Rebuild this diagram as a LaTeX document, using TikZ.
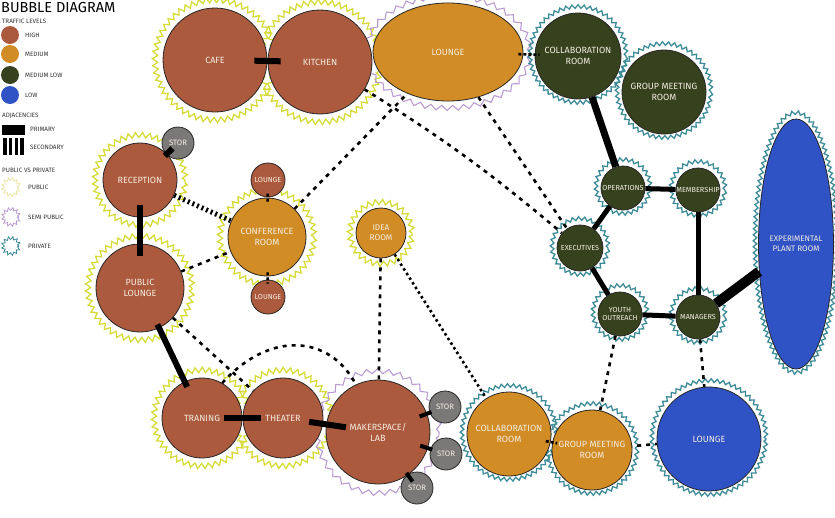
\documentclass[tikz,border=0pt]{standalone}
\usepackage{fontspec}
\setmainfont{Fira Sans}
\usetikzlibrary{shapes.geometric, decorations.pathmorphing}
\definecolor{hi}{HTML}{AC5A3E}
\definecolor{med}{HTML}{D18C26}
\definecolor{medlo}{HTML}{36421D}
\definecolor{lo}{HTML}{2F52C4}
\definecolor{storc}{HTML}{7B7978}
\definecolor{pubc}{HTML}{D5DC3A}
\definecolor{publ}{HTML}{ECE6A8}
\definecolor{semic}{HTML}{BA9CD2}
\definecolor{privc}{HTML}{3D8C98}
\definecolor{txt}{HTML}{F4EEE2}
\pgfdeclarelayer{bg}
\pgfsetlayers{bg,main}
\begin{document}
\begin{tikzpicture}[x=1pt,y=-1pt,
  room/.style={circle, draw=black!85, line width=0.8pt, inner sep=0pt, text=txt, align=center, font=\fontsize{9}{11}\selectfont},
  small/.style={font=\fontsize{7.3}{8.5}\selectfont},
  high/.style={room, fill=hi},
  medium/.style={room, fill=med},
  medlow/.style={room, fill=medlo},
  low/.style={room, fill=lo},
  stor/.style={room, fill=storc, minimum size=32pt, font=\fontsize{7.8}{9}\selectfont},
  pubhalo/.style={draw=pubc, line width=1.3pt, decorate, decoration={zigzag, amplitude=2.6pt, segment length=7pt}},
  semihalo/.style={draw=semic, line width=1.1pt, decorate, decoration={zigzag, amplitude=2.5pt, segment length=11pt}},
  privhalo/.style={draw=privc, line width=1.3pt, decorate, decoration={snake, amplitude=1.8pt, segment length=6pt}},
  prim/.style={line width=6pt, black},
  sec/.style={line width=2.6pt, black, dash pattern=on 4pt off 5pt},
  leg/.style={anchor=west, inner sep=0pt, font=\fontsize{6.3}{7}\selectfont, text=black!80},
]
\useasboundingbox (0,0) rectangle (835,517);

% ---------- legend ----------
\node[anchor=west, inner sep=0pt, font=\fontsize{14.5}{16}\selectfont] (title) at (1,8) {BUBBLE DIAGRAM};
\node[leg] (ltraffic) at (2,21) {TRAFFIC LEVELS};
\node[circle, fill=hi, minimum size=18pt, inner sep=0pt] (lhi) at (10,35) {};
\node[circle, fill=med, minimum size=18pt, inner sep=0pt] (lmed) at (10,54) {};
\node[circle, fill=medlo, minimum size=18pt, inner sep=0pt] (lml) at (10,75) {};
\node[circle, fill=lo, minimum size=18pt, inner sep=0pt] (llo) at (10,95) {};
\node[leg] (thi) at (25,35) {HIGH};
\node[leg] (tmed) at (25,54) {MEDIUM};
\node[leg] (tml) at (25,75) {MEDIUM LOW};
\node[leg] (tlo) at (25,95) {LOW};
\node[leg] (ladj) at (2,116) {ADJACENCIES};
\node[fill=black, minimum width=23pt, minimum height=10pt, inner sep=0pt] (lprim) at (13.5,130) {};
\node[leg] (tprim) at (30,129) {PRIMARY};
\foreach \i in {0,1,2,3} {\fill (3+\i*5.8,138) rectangle (6.5+\i*5.8,155);}
\node[leg] (tsec) at (30,147) {SECONDARY};
\node[leg] (lpvp) at (2,170) {PUBLIC VS PRIVATE};
\coordinate (lpub) at (11,187);
\coordinate (lsemi) at (11,217);
\coordinate (lpriv) at (11,246);
\path[pubhalo, draw=publ, line width=0.8pt, decoration={zigzag, amplitude=1.5pt, segment length=4pt}] (lpub) circle (8pt);
\path[semihalo, line width=0.8pt, decoration={zigzag, amplitude=1.5pt, segment length=4pt}] (lsemi) circle (8pt);
\path[privhalo, line width=0.8pt, decoration={zigzag, amplitude=1.5pt, segment length=4pt}] (lpriv) circle (8pt);
\node[leg] (tpub) at (28,187) {PUBLIC};
\node[leg] (tsemi) at (28,217) {SEMI PUBLIC};
\node[leg] (tpriv) at (28,246) {PRIVATE};

% ---------- rooms ----------
\node[high, minimum size=104pt] (cafe) at (215,60) {CAFE};
\node[high, minimum size=104pt] (kitchen) at (320,62) {KITCHEN};
\node[room, fill=med, ellipse, minimum width=150pt, minimum height=98pt] (loungeT) at (448,52) {LOUNGE};
\node[medlow, minimum size=86pt] (collabG) at (578,56) {COLLABORATION\\ROOM};
\node[medlow, minimum size=84pt] (groupG) at (664,92) {GROUP MEETING\\ROOM};
\node[high, minimum size=74pt] (reception) at (140,180) {RECEPTION};
\node[stor] (stor1) at (178,143) {STOR};
\node[high, minimum size=88pt] (publounge) at (140,288) {PUBLIC\\LOUNGE};
\node[medium, minimum size=78pt] (conf) at (267,237) {CONFERENCE\\ROOM};
\node[high, minimum size=34pt, small] (loungeA) at (268,180) {LOUNGE};
\node[high, minimum size=34pt, small] (loungeB) at (268,297) {LOUNGE};
\node[medium, minimum size=50pt, font=\fontsize{8.3}{10}\selectfont] (idea) at (381,233) {IDEA\\ROOM};
\node[medlow, minimum size=44pt, small] (ops) at (623,188) {OPERATIONS};
\node[medlow, minimum size=44pt, small] (memb) at (698,190) {MEMBERSHIP};
\node[medlow, minimum size=46pt, small] (exec) at (580,248) {EXECUTIVES};
\node[medlow, minimum size=44pt, small] (youth) at (620,314) {YOUTH\\OUTREACH};
\node[medlow, minimum size=44pt, small] (mgr) at (698,317) {MANAGERS};
\node[room, fill=lo, ellipse, minimum width=72pt, minimum height=250pt, font=\fontsize{8}{10}\selectfont] (plant) at (796,244) {EXPERIMENTAL\\PLANT ROOM};
\node[high, minimum size=80pt] (train) at (202,418) {TRANING};
\node[high, minimum size=80pt] (theater) at (283,418) {THEATER};
\node[high, minimum size=104pt] (maker) at (378,432) {MAKERSPACE/\\LAB};
\node[stor] (stor2) at (445,407) {STOR};
\node[stor] (stor3) at (446,454) {STOR};
\node[stor] (stor4) at (417,488) {STOR};
\node[medium, minimum size=84pt] (collabO) at (509,434) {COLLABORATION\\ROOM};
\node[medium, minimum size=80pt] (groupO) at (592,450) {GROUP MEETING\\ROOM};
\node[low, minimum size=104pt] (loungeL) at (709,439) {LOUNGE};

% ---------- halos and secondary adjacencies ----------
\begin{pgfonlayer}{bg}
\path[pubhalo] (cafe.center) circle (60pt);
\path[pubhalo] (kitchen.center) circle (60pt);
\path[semihalo] (loungeT.center) ellipse [x radius=82pt, y radius=56pt];
\path[privhalo] (collabG.center) circle (48pt);
\path[privhalo] (groupG.center) circle (47pt);
\path[pubhalo] (reception.center) circle (45pt);
\path[pubhalo] (publounge.center) circle (52pt);
\path[pubhalo] (conf.center) circle (47pt);
\path[pubhalo] (idea.center) circle (31pt);
\path[privhalo] (ops.center) circle (27pt);
\path[privhalo] (memb.center) circle (27pt);
\path[privhalo] (exec.center) circle (28pt);
\path[privhalo] (youth.center) circle (27pt);
\path[privhalo] (mgr.center) circle (27pt);
\path[privhalo] (plant.center) ellipse [x radius=41pt, y radius=130pt];
\path[pubhalo] (train.center) circle (48pt);
\path[pubhalo] (theater.center) circle (48pt);
\path[semihalo] (maker.center) circle (61pt);
\path[privhalo] (collabO.center) circle (47pt);
\path[privhalo] (groupO.center) circle (45pt);
\path[privhalo] (loungeL.center) circle (57pt);

\draw[sec, dash pattern=on 2pt off 3pt, line width=5pt] (reception) -- (conf);
\draw[sec] (publounge) -- (conf);
\draw[sec] (conf) -- (loungeT);
\draw[sec] (kitchen) to[bend left=4] (exec);
\draw[sec] (loungeT) -- (exec);
\draw[sec] (idea) -- (maker);
\draw[sec, dash pattern=on 2.5pt off 3pt] (idea) -- (collabO);
\draw[sec] (publounge) -- (theater);
\draw[sec] (youth) -- (groupO);
\draw[sec] (mgr) -- (loungeL);
\draw[sec, shorten <=-4pt, shorten >=-4pt] (groupO) -- (loungeL);
\end{pgfonlayer}

\draw[sec] (train.60) .. controls (270,330) and (330,335) .. (maker.115);
\draw[sec, shorten <=-5pt, shorten >=-5pt, dash pattern=on 3pt off 2pt] (collabO) -- (groupO);
\draw[sec, shorten <=-5pt, shorten >=-5pt, dash pattern=on 3pt off 2pt] (loungeT) -- (collabG);
\draw[sec, shorten <=-4pt, shorten >=-4pt, dash pattern=on 3pt off 2pt] (conf) -- (loungeA);
\draw[sec, shorten <=-4pt, shorten >=-4pt, dash pattern=on 3pt off 2pt] (conf) -- (loungeB);

% ---------- primary adjacencies ----------
\draw[prim, shorten <=-13pt, shorten >=-13pt] (cafe) -- (kitchen);
\draw[prim, shorten <=-2pt, shorten >=-8pt] (stor1) -- (reception);
\draw[prim, shorten <=-12pt, shorten >=-12pt] (reception) -- (publounge);
\draw[prim, shorten <=-4pt, shorten >=-6pt] (publounge) -- (train);
\draw[prim, shorten <=-18pt, shorten >=-18pt] (train) -- (theater);
\draw[prim, shorten <=-14pt, shorten >=-20pt] (theater) -- (maker);
\draw[prim, line width=4pt, shorten <=-8pt, shorten >=-2pt] (maker) -- (stor2);
\draw[prim, line width=4pt, shorten <=-8pt, shorten >=-2pt] (maker) -- (stor3);
\draw[prim, line width=4pt, shorten <=-8pt, shorten >=-2pt] (maker) -- (stor4);
\draw[prim, line width=7pt] (collabG) -- (ops);
\draw[prim, line width=5pt] (ops) -- (memb);
\draw[prim, line width=5pt] (ops) -- (exec);
\draw[prim, line width=5pt] (exec) -- (youth);
\draw[prim, line width=5pt] (youth) -- (mgr);
\draw[prim, line width=5pt] (memb) -- (mgr);
\draw[prim, line width=10pt] (mgr) -- (plant);
\end{tikzpicture}
\end{document}
